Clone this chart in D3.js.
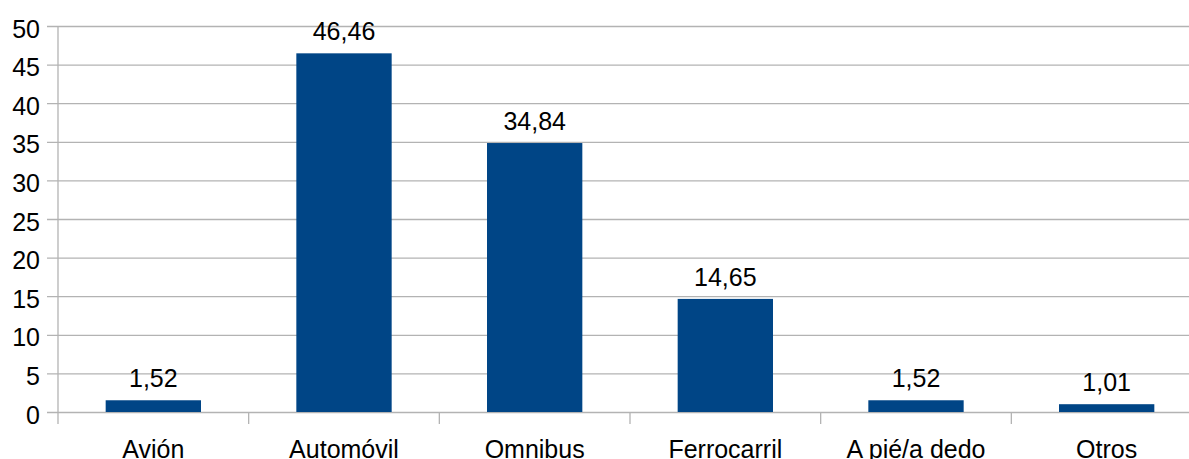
<!DOCTYPE html>
<html>
<head>
<meta charset="utf-8">
<script src="https://cdn.jsdelivr.net/npm/d3@7"></script>
<style>
  body { margin: 0; background: #fff; }
  svg { display: block; font-family: "Liberation Sans", Arial, sans-serif; }
</style>
</head>
<body>
<div id="chart"></div>
<script>
// Data
var categories = ['Avión', 'Automóvil', 'Omnibus', 'Ferrocarril', 'A pié/a dedo', 'Otros'];
var values = [1.52, 46.46, 34.84, 14.65, 1.52, 1.01];
var yTicks = [0, 5, 10, 15, 20, 25, 30, 35, 40, 45, 50];

var width = 1189;
var height = 459;
var margin = { top: 26, left: 58 };
// the plot runs past the right edge of the picture, as in the original
var plotWidth = 1144;
var plotHeight = 386;

var barColor = '#004586';
var gridColor = '#b3b3b3';

var data = categories.map(function(c, i) {
  return { cat: c, value: values[i] };
});

var svg = d3.select('#chart')
  .append('svg')
    .attr('width', width)
    .attr('height', height);

var x = d3.scaleBand()
  .domain(categories)
  .range([0, plotWidth])
  .paddingInner(0.5)
  .paddingOuter(0.25);

var y = d3.scaleLinear()
  .domain([0, 50])
  .range([plotHeight, 0]);

var g = svg.append('g')
  .attr('transform', 'translate(' + margin.left + ',' + margin.top + ')');

// Horizontal gridlines, reaching a bit left of the axis as tick marks
var yAxis = d3.axisLeft(y)
  .tickValues(yTicks)
  .tickSize(-plotWidth)
  .tickPadding(0);

var yAxisG = g.append('g').call(yAxis);
yAxisG.select('.domain').remove();
yAxisG.selectAll('.tick line')
  .attr('x1', -11)
  .attr('stroke', gridColor)
  .attr('stroke-width', 1.3);
yAxisG.selectAll('.tick text')
  .attr('x', -18)
  .attr('dy', null)
  .attr('y', 11)
  .attr('fill', '#000')
  .attr('font-size', 25)
  .attr('font-family', '"Liberation Sans", Arial, sans-serif');

// vertical axis line
g.append('line')
  .attr('x1', 0)
  .attr('x2', 0)
  .attr('y1', 0)
  .attr('y2', plotHeight + 12)
  .attr('stroke', gridColor)
  .attr('stroke-width', 1.3);

// Category separators below the baseline
var step = x.step();
g.selectAll('line.sep')
  .data(categories)
  .enter()
  .append('line')
    .attr('class', 'sep')
    .attr('x1', function(d) { return x(d) + x.bandwidth() / 2 + step / 2; })
    .attr('x2', function(d) { return x(d) + x.bandwidth() / 2 + step / 2; })
    .attr('y1', plotHeight)
    .attr('y2', plotHeight + 12)
    .attr('stroke', gridColor)
    .attr('stroke-width', 1.3);

// Bars
g.selectAll('rect.bar')
  .data(data)
  .enter()
  .append('rect')
    .attr('class', 'bar')
    .attr('x', function(d) { return x(d.cat); })
    .attr('width', x.bandwidth())
    .attr('y', function(d) { return y(d.value); })
    .attr('height', function(d) { return plotHeight - y(d.value); })
    .attr('fill', barColor);

// Value labels
g.selectAll('text.value')
  .data(data)
  .enter()
  .append('text')
    .attr('class', 'value')
    .attr('x', function(d) { return x(d.cat) + x.bandwidth() / 2; })
    .attr('y', function(d) { return y(d.value) - 13; })
    .attr('text-anchor', 'middle')
    .attr('font-size', 25)
    .attr('fill', '#000')
    .text(function(d) { return d.value.toFixed(2).replace('.', ','); });

// Category labels (cut at the bottom edge, as in the original)
g.selectAll('text.cat')
  .data(categories)
  .enter()
  .append('text')
    .attr('class', 'cat')
    .attr('x', function(d) { return x(d) + x.bandwidth() / 2; })
    .attr('y', plotHeight + 46)
    .attr('text-anchor', 'middle')
    .attr('font-size', 25)
    .attr('fill', '#000')
    .text(function(d) { return d; });
</script>
</body>
</html>
